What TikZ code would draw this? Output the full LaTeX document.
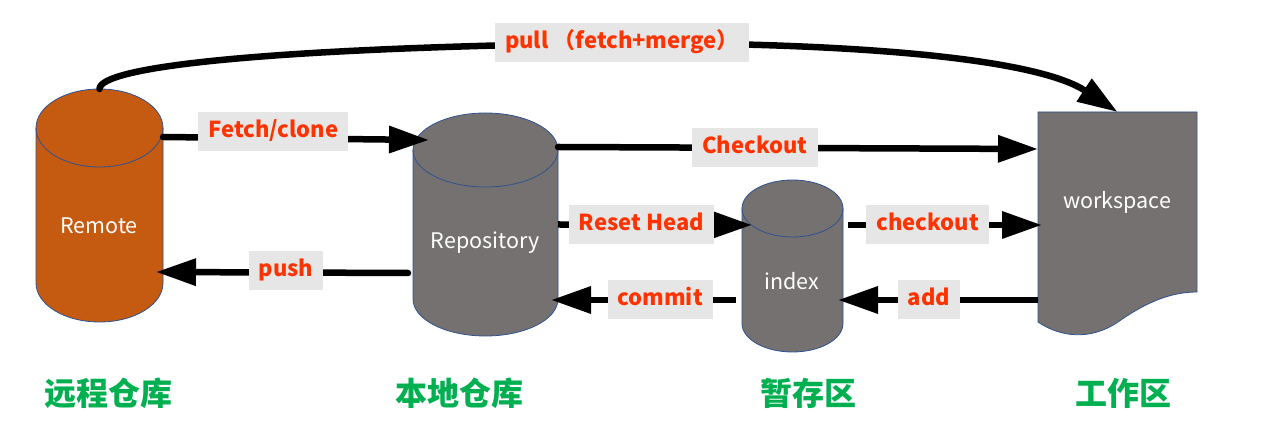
\documentclass[tikz,border=0pt]{standalone}
\usepackage{fontspec}
\setmainfont{Noto Sans CJK SC}
\usetikzlibrary{arrows.meta,positioning,calc}
\definecolor{remotefill}{HTML}{C55A11}
\definecolor{storefill}{HTML}{767171}
\definecolor{edgeblue}{HTML}{2F528F}
\definecolor{tagfill}{HTML}{E7E6E6}
\definecolor{tagtext}{HTML}{FF3300}
\definecolor{titlegreen}{HTML}{00B050}
% drum: box node, x radius, y radius, fill
\newcommand{\drum}[4]{%
  \filldraw[outline, fill=#4] ([yshift=-#3]#1.north west) -- ([yshift=#3]#1.south west)
    arc[start angle=180, end angle=360, x radius=#2, y radius=#3]
    -- ([yshift=-#3]#1.north east)
    arc[start angle=0, end angle=180, x radius=#2, y radius=#3] -- cycle;
  \draw[outline] ([yshift=-#3]#1.north west)
    arc[start angle=180, end angle=360, x radius=#2, y radius=#3];}

\begin{document}
\begin{tikzpicture}[x=1pt, y=1pt,
    store/.style={rectangle, inner sep=0pt, outer sep=0pt},
    outline/.style={draw=edgeblue, line width=0.8pt},
    storetext/.style={text=white, font=\fontsize{21.5}{25}\selectfont},
    flow/.style={-{Triangle[length=40pt, width=26pt]}, line width=6.5pt},
    tag/.style={fill=tagfill, text=tagtext, font=\fontsize{22}{26}\selectfont\bfseries, inner xsep=10pt, inner ysep=0pt, minimum height=39pt, text height=17pt, text depth=5pt},
    area/.style={text=titlegreen, font=\fontsize{32}{38}\selectfont\bfseries}
]
    \useasboundingbox (0,0) rectangle (1280,433);

    % outlines of the four stores
    \node[store, minimum width=127pt, minimum height=233pt] (remote) at (99.5,227.5) {};
    \node[store, minimum width=145pt, minimum height=223pt] (repo) at (485.5,208.5) {};
    \node[store, minimum width=101pt, minimum height=172pt] (index) at (792.5,167) {};
    \node[store, minimum width=159pt, minimum height=222pt] (work) at (1117.5,210) {};

    \drum{remote}{63.5pt}{39pt}{remotefill}
    \drum{repo}{72.5pt}{37pt}{storefill}
    \drum{index}{50.5pt}{28.5pt}{storefill}

    % workspace (document)
    \filldraw[outline, fill=storefill] (work.north west) -- (1038,111)
        .. controls (1060,96) and (1090,92) .. (1118,111)
        .. controls (1145,130) and (1170,141) .. (1197,141)
        -- (work.north east) -- cycle;

    % texts inside
    \node[storetext] (remotetxt) at (99,207) {Remote};
    \node[storetext] (repotxt) at (485,190) {Repository};
    \node[storetext] (indextxt) at (792,152) {index};
    \node[storetext] (worktxt) at (1117,231) {workspace};

    % arrows
    \draw[flow, line cap=round] (remote.north) .. controls (99.5,366) and (260,385) .. (622,390)
        node[tag] {pull （fetch+merge）}
        .. controls (880,390) and (1040,372) .. (work.north);
    \draw[flow, line cap=round] ([yshift=68.5pt]remote.east) -- node[tag, pos=0.415, yshift=7pt] {Fetch/clone} ([xshift=16pt, yshift=84.5pt]repo.west);
    \draw[flow, line cap=round] ([xshift=-5pt, yshift=-48.5pt]repo.west) -- node[tag, pos=0.484, yshift=2pt] {push} ([xshift=-7pt, yshift=-66.5pt]remote.east);
    \draw[flow, line cap=round] ([yshift=77.5pt]repo.east) -- node[tag, pos=0.41] {Checkout} ([yshift=74pt]work.west);
    \draw[flow] (repo.east) -- node[tag, pos=0.43] {Reset Head} ([xshift=10pt, yshift=41pt]index.west);
    \draw[flow] ([xshift=5pt, yshift=41pt]index.east) -- node[tag, pos=0.41] {checkout} ([xshift=4pt, yshift=-2pt]work.west);
    \draw[flow] ([yshift=-77pt]work.west) -- node[tag, pos=0.545] {add} ([xshift=-5pt, yshift=-34pt]index.east);
    \draw[flow] ([xshift=-6pt, yshift=-34pt]index.west) -- node[tag, pos=0.41] {commit} ([xshift=-7pt, yshift=-75.5pt]repo.east);

    % area titles
    \node[area] (remotearea) at (108,40) {远程仓库};
    \node[area] (repoarea) at (459,40) {本地仓库};
    \node[area] (indexarea) at (808,40) {暂存区};
    \node[area] (workarea) at (1123,40) {工作区};
\end{tikzpicture}
\end{document}
